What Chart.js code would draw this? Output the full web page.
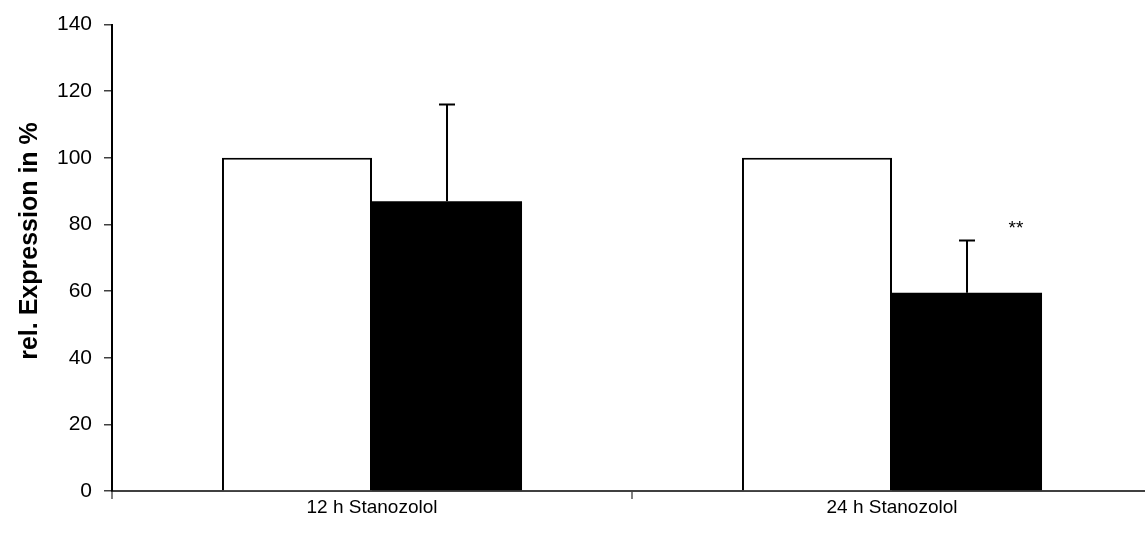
<!DOCTYPE html>
<html>
<head>
<meta charset="utf-8">
<script src="https://cdn.jsdelivr.net/npm/chart.js@4/dist/chart.umd.min.js"></script>
<style>
html,body{margin:0;padding:0;background:#fff;overflow:hidden;}
canvas{display:block;}
</style>
</head>
<body>
<canvas id="c" width="1152" height="540"></canvas>
<script>
const categories = ["12 h Stanozolol", "24 h Stanozolol"];
const controlValues = [100, 100];
const treatedValues = [87, 59.5];
const treatedErrorUpper = [116, 75.2];
const annotations = ["", "**"];
const yTicks = [0, 20, 40, 60, 80, 100, 120, 140];
const yTitle = "rel. Expression in %";

const errorBarPlugin = {
  id: 'errorBars',
  afterDatasetsDraw(chart) {
    const ctx = chart.ctx;
    const y = chart.scales.y;
    const meta = chart.getDatasetMeta(1);
    ctx.save();
    ctx.strokeStyle = '#000';
    ctx.lineWidth = 2;
    meta.data.forEach((bar, i) => {
      const top = y.getPixelForValue(treatedErrorUpper[i]);
      const base = y.getPixelForValue(treatedValues[i]);
      ctx.beginPath();
      ctx.moveTo(bar.x, base);
      ctx.lineTo(bar.x, top);
      ctx.moveTo(bar.x - 8, top);
      ctx.lineTo(bar.x + 8, top);
      ctx.stroke();
      if (annotations[i]) {
        ctx.fillStyle = '#000';
        ctx.font = '19px "Liberation Sans", Arial, sans-serif';
        ctx.textAlign = 'center';
        ctx.textBaseline = 'middle';
        ctx.fillText(annotations[i], bar.x + 49, top - 12);
      }
    });
    // y axis title
    ctx.save();
    ctx.translate(30, 241);
    ctx.rotate(-Math.PI / 2);
    ctx.fillStyle = '#000';
    ctx.font = 'bold 25px "Liberation Sans", Arial, sans-serif';
    ctx.textAlign = 'center';
    ctx.textBaseline = 'middle';
    ctx.fillText(yTitle, 0, 0);
    ctx.restore();
    ctx.restore();
  }
};

new Chart(document.getElementById('c'), {
  type: 'bar',
  data: {
    labels: categories,
    datasets: [
      { label: 'Control', data: controlValues, backgroundColor: '#ffffff', borderColor: '#000000', borderWidth: 2, borderSkipped: 'bottom' },
      { label: 'Stanozolol', data: treatedValues, backgroundColor: '#000000', borderColor: '#000000', borderWidth: 0 }
    ]
  },
  options: {
    responsive: false,
    animation: false,
    layout: { padding: { left: 0, right: 0, top: 23, bottom: 0 } },
    datasets: { bar: { barPercentage: 1.0, categoryPercentage: 0.577 } },
    plugins: { legend: { display: false }, tooltip: { enabled: false } },
    scales: {
      x: {
        offset: true,
        afterFit: s => { s.height = 49; },
        border: { display: true, color: '#404040', width: 2 },
        grid: { offset: true, drawOnChartArea: false, drawTicks: true, tickLength: 8, color: '#808080', lineWidth: 2 },
        ticks: { color: '#000', font: { family: '"Liberation Sans", Arial, sans-serif', size: 19 }, padding: -3 }
      },
      y: {
        min: 0, max: 140,
        afterFit: s => { s.width = 112; },
        afterBuildTicks: s => { s.ticks = yTicks.map(v => ({ value: v })); },
        border: { display: true, color: '#000', width: 2 },
        grid: { drawOnChartArea: false, drawTicks: true, tickLength: 8, color: '#404040', lineWidth: 1.5 },
        ticks: { color: '#000', font: { family: '"Liberation Sans", Arial, sans-serif', size: 21 }, padding: 12 },
        title: { display: false }
      }
    }
  },
  plugins: [errorBarPlugin]
});
</script>
</body>
</html>
